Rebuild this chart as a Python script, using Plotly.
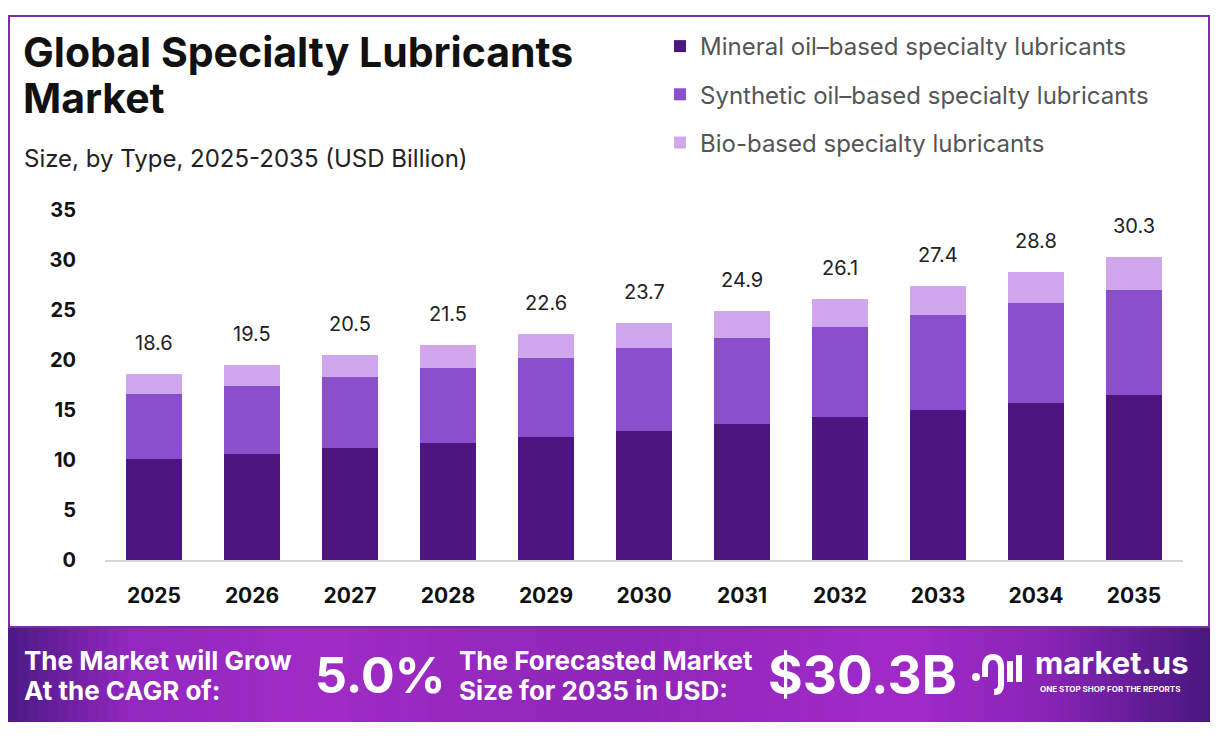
import plotly.graph_objects as go

years = ["2025", "2026", "2027", "2028", "2029", "2030", "2031", "2032", "2033", "2034", "2035"]
mineral = [10.1, 10.6, 11.2, 11.7, 12.3, 12.9, 13.6, 14.3, 15.0, 15.7, 16.5]
synthetic = [6.5, 6.8, 7.1, 7.5, 7.9, 8.3, 8.6, 9.0, 9.5, 10.0, 10.5]
bio = [2.0, 2.1, 2.2, 2.3, 2.4, 2.5, 2.7, 2.8, 2.9, 3.1, 3.3]
totals = [18.6, 19.5, 20.5, 21.5, 22.6, 23.7, 24.9, 26.1, 27.4, 28.8, 30.3]
y_ticks = [0, 5, 10, 15, 20, 25, 30, 35]

names = ["Mineral oil\u2013based specialty lubricants",
         "Synthetic oil\u2013based specialty lubricants",
         "Bio-based specialty lubricants"]
colors = ["#4d1580", "#8b4fcc", "#d0a6ec"]

OFF = 8  # page body margin
W, H = 1218 - OFF * 2, 738 - OFF * 2
L, R, T, B = 105 - OFF, 1183 - OFF, 210 - OFF, 560 - OFF
FONT = "Inter"


# screen pixel -> paper coords
def px(x):
    return (x - OFF - L) / (R - L)


def py(y):
    return (B - (y - OFF)) / (B - T)


fig = go.Figure()
for i, (name, vals) in enumerate(zip(names, [mineral, synthetic, bio])):
    fig.add_trace(go.Bar(x=years, y=vals, name=name, marker=dict(color=colors[i], line_width=0),
                         legendgroup=str(i), hoverinfo="skip"))

annotations = []
for i, tot in enumerate(totals):
    # category index on the x axis
    annotations.append(dict(x=i, y=tot, xref="x", yref="y", text=f"{tot}", showarrow=False, yshift=31,
                            font=dict(family=FONT, size=20, color="#222222")))

# banner gradient
stops = [(0.0, (0x4c, 0x1a, 0x86)), (0.1, (0x92, 0x28, 0xbf)), (0.25, (0xa0, 0x2c, 0xc6)),
         (0.5, (0x8f, 0x27, 0xb8)), (0.75, (0xa2, 0x2b, 0xc8)), (0.86, (0x8a, 0x25, 0xb8)),
         (1.0, (0x4a, 0x17, 0x80))]


def grad(t):
    for (t0, c0), (t1, c1) in zip(stops[:-1], stops[1:]):
        if t0 <= t <= t1:
            f = (t - t0) / (t1 - t0)
            return "rgb(%d,%d,%d)" % tuple(int(a + (b - a) * f) for a, b in zip(c0, c1))
    return "rgb(74,23,128)"


shapes = []
n = 120
for k in range(n):
    x0 = OFF + W * k / n
    x1 = OFF + W * (k + 1) / n + 1
    shapes.append(dict(type="rect", xref="paper", yref="paper", x0=px(x0), x1=px(x1),
                       y0=py(722), y1=py(627), fillcolor=grad((k + 0.5) / n), line_width=0, layer="below"))

# outer border
shapes.append(dict(type="rect", xref="paper", yref="paper", x0=px(9), x1=px(1209), y0=py(627), y1=py(16),
                   line=dict(color="#7b2fa0", width=2), fillcolor="rgba(0,0,0,0)", layer="below"))

# logo icon (rough)
shapes.append(dict(type="circle", xref="paper", yref="paper", x0=px(972), x1=px(980), y0=py(681), y1=py(673),
                   fillcolor="white", line_width=0))
shapes.append(dict(type="path", xref="paper", yref="paper",
                   path=f"M {px(985)},{py(677)} L {px(985)},{py(668)} Q {px(985)},{py(657)} {px(993)},{py(657)} "
                        f"Q {px(1001)},{py(657)} {px(1001)},{py(668)} L {px(1001)},{py(685)} "
                        f"Q {px(1001)},{py(692)} {px(994)},{py(692)}",
                   line=dict(color="white", width=6), fillcolor="rgba(0,0,0,0)"))
shapes.append(dict(type="line", xref="paper", yref="paper", x0=px(1010), x1=px(1010), y0=py(682), y1=py(661),
                   line=dict(color="white", width=6)))
shapes.append(dict(type="line", xref="paper", yref="paper", x0=px(1019), x1=px(1019), y0=py(682), y1=py(655),
                   line=dict(color="white", width=6)))


def ann(x, y, text, size, color="#111111", xanchor="left", yanchor="middle", weight="normal"):
    annotations.append(dict(xref="paper", yref="paper", x=px(x), y=py(y), text=text, showarrow=False,
                            xanchor=xanchor, yanchor=yanchor, align="left",
                            font=dict(family=FONT, size=size, color=color, weight=weight)))


ann(21, 52, "Global Specialty Lubricants", 41, weight="bold")
ann(21, 98, "Market", 41, weight="bold")
ann(22, 158, "Size, by Type, 2025-2035 (USD Billion)", 24, color="#222222")

ann(22, 660, "The Market will Grow", 26, color="white", weight="bold")
ann(22, 690, "At the CAGR of:", 26, color="white", weight="bold")
ann(313, 675, "5.0%", 50, color="white", weight="bold")
ann(457, 660, "The Forecasted Market", 26, color="white", weight="bold")
ann(457, 690, "Size for 2035 in USD:", 26, color="white", weight="bold")
ann(766, 675, "$30.3B", 53, color="white", weight="bold")
ann(1033, 662, "market.us", 31, color="white", weight="bold")
ann(1038, 689, "ONE STOP SHOP FOR THE REPORTS", 8, color="white", weight="bold")

fig.update_layout(
    width=W, height=H,
    margin=dict(l=L, r=W - R, t=T, b=H - B),
    barmode="stack", bargap=0.43,
    plot_bgcolor="white", paper_bgcolor="white",
    showlegend=True,
    legend=dict(x=px(660), y=py(24), xanchor="left", yanchor="top", traceorder="grouped",
                tracegroupgap=14, font=dict(family=FONT, size=24, color="#555555"),
                bgcolor="rgba(0,0,0,0)", itemclick=False),
    xaxis=dict(type="category", range=[-0.5, len(years) - 0.5], showline=True, linecolor="#d6d6d6",
               linewidth=2, ticks="", showgrid=False,
               tickfont=dict(family=FONT, size=21, color="#111111", weight="bold"), ticklabelstandoff=16),
    yaxis=dict(range=[0, 35], tickvals=y_ticks, showgrid=False, zeroline=False, showline=False,
               tickfont=dict(family=FONT, size=20, color="#111111", weight="bold"), ticklabelstandoff=28),
    annotations=annotations, shapes=shapes,
)

fig.write_html("out.html")
